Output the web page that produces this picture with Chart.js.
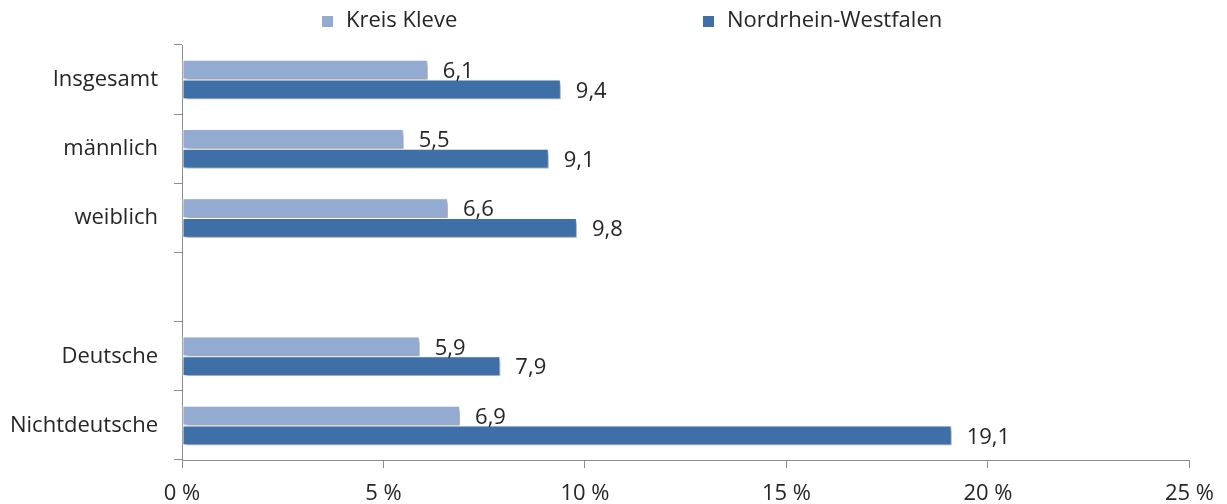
<!DOCTYPE html>
<html>
<head>
<meta charset="utf-8">
<script src="https://cdn.jsdelivr.net/npm/chart.js@4.4.1/dist/chart.umd.min.js"></script>
<style>
html,body{margin:0;padding:0;background:#fff;}
#wrap{width:1227px;height:504px;position:relative;}
</style>
</head>
<body>
<div id="wrap"><canvas id="c" width="1227" height="504"></canvas></div>
<script>
const categories = ["Insgesamt", "männlich", "weiblich", "", "Deutsche", "Nichtdeutsche"];
const kreisKleve = [6.1, 5.5, 6.6, null, 5.9, 6.9];
const nrw = [9.4, 9.1, 9.8, null, 7.9, 19.1];
const seriesNames = ["Kreis Kleve", "Nordrhein-Westfalen"];
const seriesColors = ["#93AAD1", "#3E70A7"];
const xTicks = [0, 5, 10, 15, 20, 25];

const FONT = "'Open Sans', sans-serif";
const FSIZE = 22;

const shadowPlugin = {
  id: 'shadow',
  beforeDatasetDraw(chart) {
    const ctx = chart.ctx;
    ctx.save();
    ctx.shadowColor = 'rgba(0,0,0,0.38)';
    ctx.shadowBlur = 4;
    ctx.shadowOffsetX = 2;
    ctx.shadowOffsetY = 3;
  },
  afterDatasetDraw(chart) {
    chart.ctx.restore();
  }
};

const labelPlugin = {
  id: 'vlabels',
  afterDatasetsDraw(chart) {
    const ctx = chart.ctx;
    ctx.save();
    ctx.font = FSIZE + "px " + FONT;
    ctx.fillStyle = '#262626';
    ctx.textAlign = 'left';
    ctx.textBaseline = 'middle';
    chart.data.datasets.forEach((ds, di) => {
      const meta = chart.getDatasetMeta(di);
      meta.data.forEach((bar, i) => {
        const v = ds.data[i];
        if (v === null || v === undefined) return;
        ctx.fillText(v.toFixed(1).replace('.', ','), bar.x + 15, bar.y + 2);
      });
    });
    ctx.restore();
  }
};

const legendPlugin = {
  id: 'customLegend',
  afterDraw(chart) {
    const ctx = chart.ctx;
    ctx.save();
    ctx.font = FSIZE + "px " + FONT;
    ctx.textBaseline = 'middle';
    ctx.textAlign = 'left';
    const starts = [322, 703];
    const y = 21;
    chart.data.datasets.forEach((ds, i) => {
      ctx.fillStyle = seriesColors[i];
      ctx.fillRect(starts[i], y - 5, 11, 11);
      ctx.fillStyle = '#262626';
      ctx.fillText(ds.label, starts[i] + 24, y);
    });
    ctx.restore();
  }
};

new Chart(document.getElementById('c'), {
  type: 'bar',
  data: {
    labels: categories,
    datasets: [
      { label: seriesNames[0], data: kreisKleve, backgroundColor: seriesColors[0], borderColor: '#ffffff', borderWidth: 1, borderSkipped: false, categoryPercentage: 0.57, barPercentage: 1.0 },
      { label: seriesNames[1], data: nrw, backgroundColor: seriesColors[1], borderColor: '#ffffff', borderWidth: 1, borderSkipped: false, categoryPercentage: 0.57, barPercentage: 1.0 }
    ]
  },
  options: {
    indexAxis: 'y',
    responsive: false,
    animation: false,
    layout: { padding: { left: 0, right: 37, top: 45, bottom: 0 } },
    plugins: {
      legend: { display: false },
      tooltip: { enabled: false }
    },
    scales: {
      x: {
        min: 0, max: 25,
        afterBuildTicks(scale) { scale.ticks = xTicks.map(v => ({ value: v })); },
        ticks: {
          callback: v => v + ' %',
          color: '#262626',
          font: { family: FONT, size: FSIZE },
          padding: 13,
          maxRotation: 0
        },
        grid: { drawOnChartArea: false, drawTicks: true, tickLength: 8, color: '#8c8c8c' },
        border: { color: '#8c8c8c', width: 1 },
        afterFit(scale) { scale.height = 44; }
      },
      y: {
        ticks: {
          color: '#262626',
          font: { family: FONT, size: FSIZE },
          padding: 16
        },
        grid: { offset: true, drawOnChartArea: false, drawTicks: true, tickLength: 8, color: '#8c8c8c' },
        border: { color: '#8c8c8c', width: 1 },
        afterFit(scale) { scale.width = 182; }
      }
    }
  },
  plugins: [shadowPlugin, labelPlugin, legendPlugin]
});
</script>
</body>
</html>
